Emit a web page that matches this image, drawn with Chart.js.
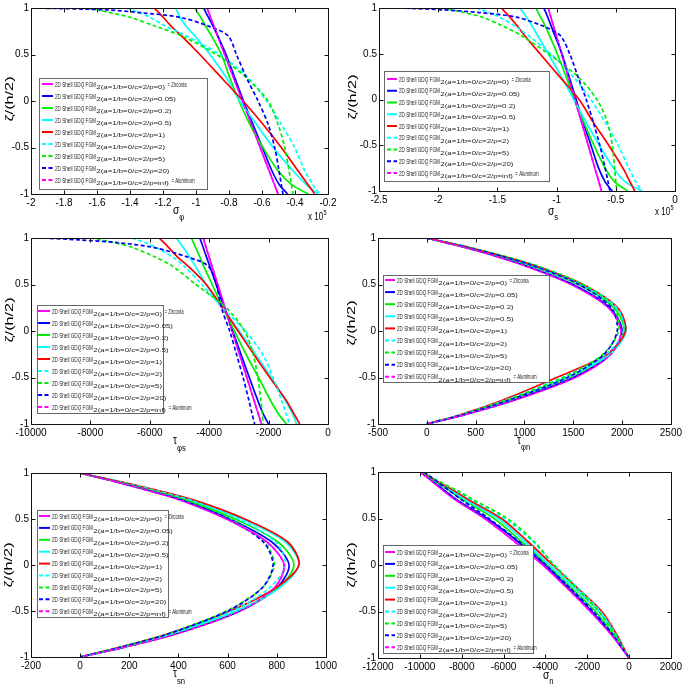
<!DOCTYPE html>
<html><head><meta charset="utf-8">
<script src="https://cdn.jsdelivr.net/npm/chart.js@4/dist/chart.umd.min.js"></script>
<style>
html,body{margin:0;padding:0;background:#fff;}
body{width:685px;height:687px;position:relative;overflow:hidden;}
canvas{position:absolute;}
</style></head><body>
<canvas id="c1" width="340" height="225" style="left:0;top:0;width:340px;height:225px"></canvas>
<canvas id="c2" width="345" height="225" style="left:340px;top:0;width:345px;height:225px"></canvas>
<canvas id="c3" width="340" height="230" style="left:0;top:225px;width:340px;height:230px"></canvas>
<canvas id="c4" width="345" height="230" style="left:340px;top:225px;width:345px;height:230px"></canvas>
<canvas id="c5" width="340" height="232" style="left:0;top:455px;width:340px;height:232px"></canvas>
<canvas id="c6" width="345" height="232" style="left:340px;top:455px;width:345px;height:232px"></canvas>
<script>
// ---------- DATA ----------
const zeta = [1, 0.98, 0.95, 0.9, 0.8, 0.7, 0.5, 0.25, 0, -0.25, -0.5, -0.75, -0.9, -1];
const pValues = ['0', '0.05', '0.2', '0.5', '1', '2', '5', '20', 'inf'];
const legendMain = '2D Shell GDQ FGM';
const legendSuffix = ['= Zirconia', '', '', '', '', '', '', '', '= Aluminum'];
const yTicks = [-1, -0.5, 0, 0.5, 1];

// sigma_phi (x 10^5)
const sigmaPhi = [
  [-0.933,-0.929,-0.922,-0.912,-0.890,-0.869,-0.826,-0.772,-0.718,-0.664,-0.611,-0.557,-0.524,-0.503],
  [-0.953,-0.948,-0.940,-0.925,-0.895,-0.868,-0.818,-0.765,-0.712,-0.655,-0.598,-0.540,-0.495,-0.445],
  [-1.007,-1.000,-0.990,-0.972,-0.940,-0.906,-0.846,-0.795,-0.739,-0.674,-0.594,-0.503,-0.420,-0.320],
  [-1.122,-1.117,-1.110,-1.098,-1.058,-1.007,-0.916,-0.816,-0.735,-0.634,-0.533,-0.412,-0.331,-0.261],
  [-1.255,-1.243,-1.225,-1.199,-1.148,-1.088,-0.977,-0.846,-0.715,-0.594,-0.483,-0.382,-0.321,-0.281],
  [-1.421,-1.390,-1.340,-1.280,-1.179,-1.058,-0.856,-0.684,-0.573,-0.483,-0.402,-0.341,-0.291,-0.250],
  [-1.683,-1.600,-1.520,-1.400,-1.239,-1.088,-0.876,-0.695,-0.563,-0.503,-0.462,-0.436,-0.422,-0.412],
  [-1.986,-1.540,-1.340,-1.098,-0.916,-0.805,-0.755,-0.694,-0.624,-0.563,-0.523,-0.497,-0.483,-0.473],
  [-0.933,-0.929,-0.922,-0.912,-0.890,-0.869,-0.826,-0.772,-0.718,-0.664,-0.611,-0.557,-0.524,-0.503]
];
const sigmaPhiTicks = [-2, -1.8, -1.6, -1.4, -1.2, -1, -0.8, -0.6, -0.4, -0.2];

// sigma_s (x 10^5)
const sigmaS = [
  [-1.071,-1.066,-1.060,-1.048,-1.026,-1.003,-0.958,-0.902,-0.846,-0.789,-0.733,-0.677,-0.643,-0.620],
  [-1.108,-1.101,-1.090,-1.075,-1.045,-1.015,-0.955,-0.895,-0.835,-0.775,-0.710,-0.645,-0.590,-0.530],
  [-1.175,-1.167,-1.155,-1.135,-1.095,-1.060,-0.995,-0.920,-0.850,-0.770,-0.685,-0.590,-0.510,-0.400],
  [-1.310,-1.300,-1.280,-1.255,-1.205,-1.160,-1.070,-0.960,-0.855,-0.750,-0.640,-0.520,-0.420,-0.280],
  [-1.466,-1.452,-1.430,-1.395,-1.330,-1.270,-1.140,-0.975,-0.810,-0.690,-0.560,-0.440,-0.380,-0.340],
  [-1.680,-1.630,-1.570,-1.480,-1.350,-1.240,-1.050,-0.860,-0.710,-0.590,-0.480,-0.390,-0.330,-0.280],
  [-1.970,-1.880,-1.780,-1.630,-1.450,-1.300,-1.070,-0.820,-0.660,-0.570,-0.530,-0.510,-0.500,-0.490],
  [-2.330,-1.960,-1.650,-1.340,-1.110,-0.970,-0.890,-0.820,-0.750,-0.690,-0.635,-0.590,-0.565,-0.550],
  [-1.071,-1.066,-1.060,-1.048,-1.026,-1.003,-0.958,-0.902,-0.846,-0.789,-0.733,-0.677,-0.643,-0.620]
];
const sigmaSTicks = [-2.5, -2, -1.5, -1, -0.5, 0];

// tau_phi_s
const tauPhiS = [
  [-4204,-4184,-4155,-4106,-4008,-3910,-3714,-3468,-3223,-2978,-2733,-2487,-2340,-2242],
  [-4316,-4294,-4260,-4205,-4095,-3985,-3765,-3490,-3210,-2930,-2650,-2360,-2170,-2000],
  [-4600,-4572,-4530,-4460,-4320,-4190,-3900,-3540,-3150,-2760,-2340,-1930,-1650,-1400],
  [-5100,-5056,-4990,-4880,-4670,-4470,-4100,-3560,-2990,-2440,-1910,-1430,-1180,-1060],
  [-5680,-5620,-5520,-5370,-5080,-4720,-4100,-3550,-3030,-2500,-1960,-1400,-1130,-950],
  [-6600,-6420,-6150,-5800,-5250,-4850,-4250,-3560,-2780,-2200,-1850,-1560,-1400,-1290],
  [-8000,-7650,-7200,-6600,-5850,-5250,-4450,-3430,-2810,-2520,-2360,-2260,-2210,-2190],
  [-9580,-8400,-7100,-5900,-4770,-4040,-3760,-3590,-3310,-3080,-2860,-2660,-2550,-2470],
  [-4204,-4184,-4155,-4106,-4008,-3910,-3714,-3468,-3223,-2978,-2733,-2487,-2340,-2242]
];
const tauPhiSTicks = [-10000, -8000, -6000, -4000, -2000, 0];

// tau_phi_n
const tauPhiN = [
  [0,78,190,380,720,1010,1480,1860,1990,1885,1520,880,390,0],
  [0,79,193,388,732,1025,1500,1875,2000,1880,1500,865,382,0],
  [0,83,203,405,762,1070,1550,1915,2020,1865,1450,830,368,0],
  [0,85,208,415,778,1090,1570,1935,2040,1875,1430,815,360,0],
  [0,88,214,425,795,1115,1600,1955,2035,1845,1330,760,340,0],
  [0,88,215,428,800,1120,1600,1945,2015,1835,1380,785,350,0],
  [0,90,220,435,810,1130,1600,1915,1965,1805,1400,800,356,0],
  [0,85,208,415,780,1095,1560,1890,1950,1815,1440,825,368,0],
  [0,78,190,380,720,1010,1480,1860,1990,1885,1520,880,390,0]
];
const tauPhiNTicks = [-500, 0, 500, 1000, 1500, 2000, 2500];

// tau_s_n
const tauSN = [
  [0,30,75,150,290,415,595,760,830,790,650,390,170,0],
  [0,31,78,155,298,425,610,780,850,800,650,385,168,0],
  [0,32,80,160,308,440,630,805,870,805,640,375,162,0],
  [0,34,85,168,322,460,658,835,890,810,635,370,160,0],
  [0,35,87,172,330,470,670,845,890,795,610,355,152,0],
  [0,34,84,168,322,455,645,795,835,770,620,365,158,0],
  [0,32,80,160,305,430,610,750,790,740,595,352,152,0],
  [0,31,78,155,295,420,600,745,785,740,600,357,155,0],
  [0,30,75,150,290,415,595,760,830,790,650,390,170,0]
];
const tauSNTicks = [-200, 0, 200, 400, 600, 800, 1000];

// sigma_n
const sigmaN = [
  [-10000,-9880,-9700,-9420,-8880,-8300,-6900,-5460,-4120,-2950,-1850,-840,-330,0],
  [-9950,-9830,-9650,-9360,-8800,-8220,-6780,-5300,-4020,-2870,-1770,-800,-315,0],
  [-9900,-9770,-9580,-9270,-8600,-7950,-6450,-5140,-3920,-2740,-1610,-730,-290,0],
  [-9900,-9760,-9560,-9230,-8480,-7800,-6250,-4980,-3800,-2600,-1450,-650,-260,0],
  [-9900,-9750,-9540,-9190,-8380,-7650,-6100,-4830,-3650,-2450,-1300,-580,-230,0],
  [-9850,-9700,-9480,-9120,-8250,-7500,-5950,-4600,-3570,-2430,-1370,-610,-240,0],
  [-9850,-9700,-9470,-9100,-8200,-7420,-5820,-4520,-3600,-2500,-1450,-650,-255,0],
  [-9800,-9680,-9500,-9200,-8600,-8000,-6700,-5250,-3970,-2810,-1700,-770,-300,0],
  [-10000,-9880,-9700,-9420,-8880,-8300,-6900,-5460,-4120,-2950,-1850,-840,-330,0]
];
const sigmaNTicks = [-12000, -10000, -8000, -6000, -4000, -2000, 0, 2000];

// ---------- STYLE ----------
const seriesColors = ['#ff00ff','#0000ff','#00ee00','#00ffff','#ff0000','#00ffff','#00ee00','#0000ff','#ff00ff'];
const seriesDashed = [false,false,false,false,false,true,true,true,true];
const FONT = '"Liberation Sans", Arial, sans-serif';

function drawText(ctx, s, x, y, size, sx) {
  ctx.save();
  ctx.translate(x, y);
  ctx.scale(sx, 1);
  ctx.font = size + 'px ' + FONT;
  ctx.textAlign = 'left';
  ctx.textBaseline = 'alphabetic';
  ctx.fillText(s, 0, 0);
  const w = ctx.measureText(s).width * sx;
  ctx.restore();
  return w;
}

const decorPlugin = {
  id: 'matDecor',
  afterDraw(chart, args, o) {
    const ctx = chart.ctx, a = chart.chartArea;
    const ox = o.offset[0], oy = o.offset[1];
    const xs = chart.scales.x, ys = chart.scales.y;
    ctx.save();
    // axes box
    ctx.strokeStyle = '#111';
    ctx.lineWidth = 1;
    const L = Math.round(a.left) + 0.5, T = Math.round(a.top) + 0.5;
    const R = Math.round(a.right) + 0.5, B = Math.round(a.bottom) + 0.5;
    ctx.beginPath();
    ctx.rect(L, T, R - L, B - T);
    xs.ticks.forEach(t => {
      const px = Math.round(xs.getPixelForValue(t.value)) + 0.5;
      ctx.moveTo(px, B); ctx.lineTo(px, B - 4);
      ctx.moveTo(px, T); ctx.lineTo(px, T + 4);
    });
    ys.ticks.forEach(t => {
      const py = Math.round(ys.getPixelForValue(t.value)) + 0.5;
      ctx.moveTo(L, py); ctx.lineTo(L + 4, py);
      ctx.moveTo(R, py); ctx.lineTo(R - 4, py);
    });
    ctx.stroke();

    // legend
    const lg = o.legend;
    const bx = lg.box[0] - ox, by = lg.box[1] - oy, bw = lg.box[2] - lg.box[0], bh = lg.box[3] - lg.box[1];
    ctx.fillStyle = '#fff';
    ctx.fillRect(bx, by, bw, bh);
    ctx.strokeStyle = '#666';
    ctx.strokeRect(bx + 0.5, by + 0.5, bw, bh);
    chart.data.datasets.forEach((ds, i) => {
      const y = lg.row0 - oy + i * lg.spacing;
      ctx.save();
      ctx.strokeStyle = ds.borderColor;
      ctx.lineWidth = 2;
      ctx.setLineDash(ds.borderDash || []);
      ctx.beginPath();
      ctx.moveTo(lg.line[0] - ox, y);
      ctx.lineTo(lg.line[1] - ox, y);
      ctx.stroke();
      ctx.restore();
      ctx.fillStyle = '#222';
      let x = lg.tx - ox;
      x += drawText(ctx, legendMain, x, y + 2.5, 7, 0.66);
      x += 0.5;
      x += drawText(ctx, '2(a=1/b=0/c=2/p=' + pValues[i] + ')', x, y + 5, 4.9, 1.6);
      if (legendSuffix[i]) {
        x += 2.5;
        drawText(ctx, legendSuffix[i], x, y + 2.5, 7, 0.62);
      }
    });

    // x title
    ctx.fillStyle = '#000';
    const xt = o.xTitle;
    const w = drawText(ctx, xt.main, xt.x - ox, xt.y - oy, 12, 0.85);
    drawText(ctx, xt.sub, xt.x - ox + w, xt.subY - oy, 8.5, 0.9);

    // y title (rotated)
    ctx.save();
    ctx.translate(o.yTitle.x - ox, o.yTitle.y - oy);
    ctx.rotate(-Math.PI / 2);
    ctx.scale(1.25, 0.8);
    ctx.font = '13px ' + FONT;
    ctx.textAlign = 'center';
    ctx.textBaseline = 'middle';
    ctx.fillText('\u03B6/(h/2)', 0, 0);
    ctx.restore();

    // exponent label
    if (o.exp) {
      const ew = drawText(ctx, 'x 10', o.exp.x - ox, o.exp.y - oy, 10, 0.8);
      drawText(ctx, '5', o.exp.x - ox + ew + 0.5, o.exp.y - oy - 5, 7, 0.8);
    }
    ctx.restore();
  }
};

function makeChart(id, values, xTicks, area, decor) {
  const canvas = document.getElementById(id);
  const W = canvas.width, H = canvas.height;
  const datasets = values.map((vals, i) => ({
    label: 'p=' + pValues[i],
    data: zeta.map((z, k) => ({ x: vals[k], y: z })),
    borderColor: seriesColors[i],
    borderWidth: 1.7,
    borderDash: seriesDashed[i] ? [4, 2.5] : [],
    pointRadius: 0,
    showLine: true,
    tension: 0.3,
    fill: false,
    order: 9 - i
  }));
  const fmt = v => String(Math.round(v * 1000) / 1000);
  return new Chart(canvas, {
    type: 'scatter',
    data: { datasets },
    options: {
      responsive: false,
      animation: false,
      devicePixelRatio: 1,
      layout: { padding: { left: 0, top: area.top, right: W - area.right, bottom: 0 } },
      plugins: {
        legend: { display: false },
        tooltip: { enabled: false },
        matDecor: decor
      },
      scales: {
        x: {
          type: 'linear',
          min: xTicks[0],
          max: xTicks[xTicks.length - 1],
          afterBuildTicks: s => { s.ticks = xTicks.map(v => ({ value: v })); },
          afterFit: s => { s.height = H - area.bottom; },
          grid: { display: false, drawTicks: false },
          border: { display: false },
          ticks: { autoSkip: false, maxRotation: 0, padding: 3, color: '#000',
                   font: { family: FONT, size: 10 }, callback: fmt }
        },
        y: {
          type: 'linear',
          min: yTicks[0],
          max: yTicks[yTicks.length - 1],
          afterBuildTicks: s => { s.ticks = yTicks.map(v => ({ value: v })); },
          afterFit: s => { s.width = area.left; },
          grid: { display: false, drawTicks: false },
          border: { display: false },
          ticks: { autoSkip: false, padding: 2, color: '#000',
                   font: { family: FONT, size: 10 }, callback: fmt }
        }
      }
    },
    plugins: [decorPlugin]
  });
}

makeChart('c1', sigmaPhi, sigmaPhiTicks, { left: 31, top: 4, right: 328, bottom: 194 }, {
  offset: [0, 0],
  legend: { box: [39, 78, 207, 189], row0: 84, spacing: 12, line: [42, 53], tx: 55 },
  xTitle: { main: '\u03C3', sub: '\u03C6', x: 173, y: 214, subY: 220 },
  yTitle: { x: 10, y: 99 },
  exp: { x: 308, y: 220 }
});
makeChart('c2', sigmaS, sigmaSTicks, { left: 39, top: 4, right: 335, bottom: 191 }, {
  offset: [340, 0],
  legend: { box: [384, 71, 549, 181], row0: 79, spacing: 11.75, line: [387, 397], tx: 399 },
  xTitle: { main: '\u03C3', sub: 's', x: 548, y: 215, subY: 220 },
  yTitle: { x: 353, y: 97 },
  exp: { x: 655, y: 215 }
});
makeChart('c3', tauPhiS, tauPhiSTicks, { left: 31, top: 13, right: 328, bottom: 199 }, {
  offset: [0, 225],
  legend: { box: [37, 305, 163, 413], row0: 311, spacing: 12, line: [38, 50], tx: 52 },
  xTitle: { main: '\u03C4', sub: '\u03C6s', x: 173, y: 444, subY: 451 },
  yTitle: { x: 10, y: 320 }
});
makeChart('c4', tauPhiN, tauPhiNTicks, { left: 38, top: 13, right: 335, bottom: 199 }, {
  offset: [340, 225],
  legend: { box: [383, 275, 549, 382], row0: 280, spacing: 12.1, line: [385, 395], tx: 397 },
  xTitle: { main: '\u03C4', sub: '\u03C6n', x: 517, y: 444, subY: 450 },
  yTitle: { x: 352, y: 323 }
});
makeChart('c5', tauSN, tauSNTicks, { left: 31, top: 18, right: 328, bottom: 202 }, {
  offset: [0, 455],
  legend: { box: [37, 510, 168, 617], row0: 516, spacing: 11.9, line: [39, 50], tx: 52 },
  xTitle: { main: '\u03C4', sub: 'sn', x: 173, y: 677, subY: 684 },
  yTitle: { x: 9, y: 565 }
});
makeChart('c6', sigmaN, sigmaNTicks, { left: 38, top: 17, right: 335, bottom: 203 }, {
  offset: [340, 455],
  legend: { box: [383, 545, 533, 653], row0: 552, spacing: 11.9, line: [385, 395], tx: 397 },
  xTitle: { main: '\u03C3', sub: 'n', x: 543, y: 679, subY: 684 },
  yTitle: { x: 352, y: 565 }
});
</script>
</body></html>
